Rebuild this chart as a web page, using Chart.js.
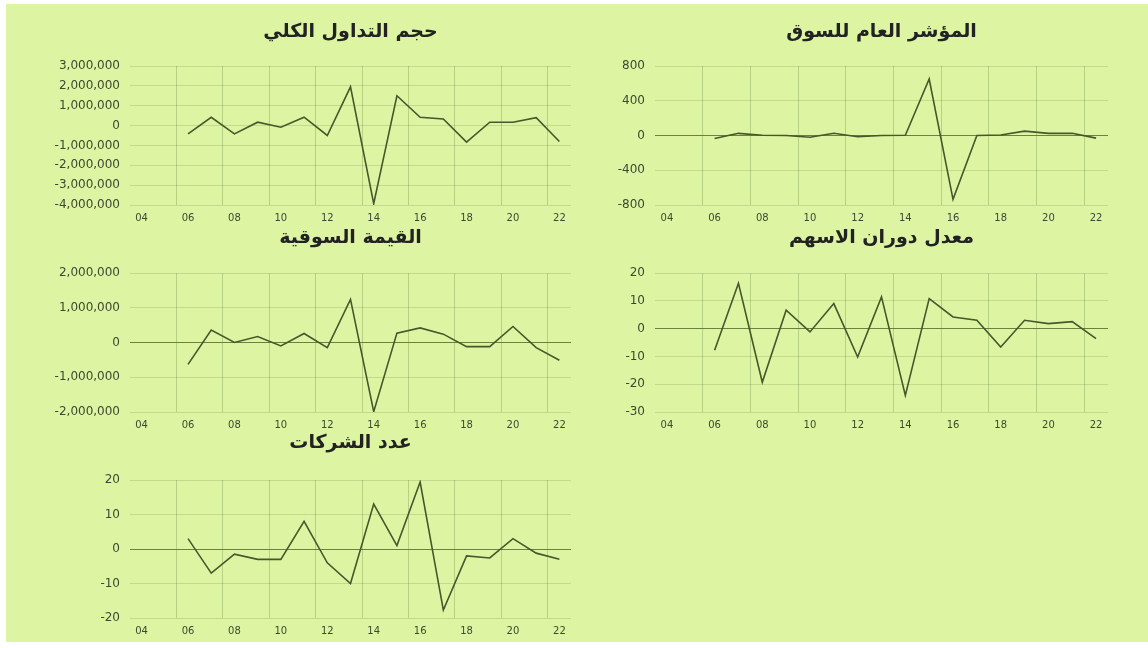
<!DOCTYPE html>
<html>
<head>
<meta charset="utf-8">
<script src="https://cdn.jsdelivr.net/npm/chart.js@4"></script>
<style>
html, body { margin: 0; padding: 0; background: #fff; }
body { width: 1148px; height: 648px; position: relative; overflow: hidden; }
#bg { position: absolute; left: 6px; top: 4px; width: 1142px; height: 638px; background: #ddf5a3; }
.box { position: absolute; }
canvas { display: block; }
</style>
</head>
<body>
<div id="bg"></div>
<div class="box" style="left:0;top:0;width:580px;height:225px"><canvas id="c1"></canvas></div>
<div class="box" style="left:580px;top:0;width:568px;height:225px"><canvas id="c2"></canvas></div>
<div class="box" style="left:0;top:222px;width:580px;height:210px"><canvas id="c3"></canvas></div>
<div class="box" style="left:580px;top:222px;width:568px;height:210px"><canvas id="c4"></canvas></div>
<div class="box" style="left:0;top:432px;width:580px;height:206px"><canvas id="c5"></canvas></div>
<script>
const years = [2006, 2007, 2008, 2009, 2010, 2011, 2012, 2013, 2014, 2015, 2016, 2017, 2018, 2019, 2020, 2021, 2022];
const xTicks = [2004, 2006, 2008, 2010, 2012, 2014, 2016, 2018, 2020, 2022];

const tradingVolume = [-420000, 420000, -420000, 170000, -80000, 420000, -500000, 1950000, -3930000, 1500000, 420000, 330000, -830000, 170000, 170000, 400000, -800000];
const marketIndex = [-35, 25, 3, 0, -20, 25, -15, 0, 3, 650, -735, 0, 5, 50, 25, 25, -30];
const marketValue = [-630000, 360000, 0, 170000, -100000, 260000, -150000, 1240000, -1990000, 270000, 420000, 240000, -120000, -120000, 460000, -150000, -510000];
const turnoverRate = [-7.8, 16.3, -19.3, 6.6, -1.2, 9, -10.2, 11.4, -24, 10.8, 4.2, 3, -6.6, 3, 1.8, 2.5, -3.6];
const companyCount = [3, -7, -1.5, -3, -3, 8, -4, -10, 13, 1, 19.4, -17.7, -2, -2.6, 3, -1.2, -3];

const volumeTicks = [-4000000, -3000000, -2000000, -1000000, 0, 1000000, 2000000, 3000000];
const indexTicks = [-800, -400, 0, 400, 800];
const valueTicks = [-2000000, -1000000, 0, 1000000, 2000000];
const turnoverTicks = [-30, -20, -10, 0, 10, 20];
const companyTicks = [-20, -10, 0, 10, 20];

const titles = ['حجم التداول الكلي', 'المؤشر العام للسوق', 'القيمة السوقية', 'معدل دوران الاسهم', 'عدد الشركات'];

const faintV = 'rgba(95, 125, 55, 0.3)';
const faintH = 'rgba(95, 125, 55, 0.22)';
const zeroLine = 'rgba(85, 110, 45, 0.85)';
const textColor = '#3c4830';

// y axis width per column, title sits over the plot area only
const columns = [
    { axisWidth: 130, padRight: 9 },
    { axisWidth: 75, padRight: 40 }
];
const rows = [
    { titleTop: 20.6, titleBottom: 22.6 },
    { titleTop: 4.6, titleBottom: 23.6 },
    { titleTop: 0, titleBottom: 25.2 }
];

function makeChart(id, title, values, yTicks, col, row, darkZero) {
    const c = columns[col];
    const r = rows[row];
    return new Chart(document.getElementById(id), {
        type: 'line',
        data: {
            datasets: [{
                data: years.map((y, i) => ({ x: y, y: values[i] })),
                borderColor: '#46572c',
                borderWidth: 1.6,
                pointRadius: 0,
                tension: 0,
                fill: false
            }]
        },
        options: {
            responsive: true,
            maintainAspectRatio: false,
            animation: false,
            layout: { padding: { left: 0, right: c.padRight, top: 0, bottom: 0 } },
            scales: {
                x: {
                    type: 'linear',
                    min: 2003.5,
                    max: 2022.5,
                    afterBuildTicks: s => { s.ticks = xTicks.map(v => ({ value: v })); },
                    afterFit: s => { s.height = 20; },
                    grid: { display: false, drawTicks: false },
                    border: { display: false },
                    ticks: {
                        padding: 7,
                        maxRotation: 0,
                        autoSkip: false,
                        color: textColor,
                        font: { family: 'DejaVu Sans', size: 10 },
                        callback: v => String(v % 100).padStart(2, '0')
                    }
                },
                xg: {
                    type: 'linear',
                    position: 'bottom',
                    min: 2003.5,
                    max: 2022.5,
                    afterBuildTicks: s => { s.ticks = xTicks.slice(1).map(v => ({ value: v - 0.5 })); },
                    afterFit: s => { s.height = 0; },
                    grid: { color: faintV, lineWidth: 1, drawTicks: false },
                    border: { display: false },
                    ticks: { display: false }
                },
                y: {
                    min: yTicks[0],
                    max: yTicks[yTicks.length - 1],
                    afterBuildTicks: s => { s.ticks = yTicks.map(v => ({ value: v })); },
                    afterFit: s => { s.width = c.axisWidth; },
                    grid: {
                        drawTicks: false,
                        color: ctx => (darkZero && ctx.tick && ctx.tick.value === 0) ? zeroLine : faintH
                    },
                    border: { display: false },
                    ticks: {
                        padding: 10,
                        color: textColor,
                        font: { family: 'DejaVu Sans', size: 12 },
                        callback: v => Number(v).toLocaleString('en-US')
                    }
                }
            },
            plugins: {
                legend: { display: false },
                tooltip: { enabled: false },
                title: {
                    display: true,
                    fullSize: false,
                    text: title,
                    color: '#222',
                    font: { family: 'DejaVu Sans', size: 19, weight: 'bold', lineHeight: 1.2 },
                    padding: { top: r.titleTop, bottom: r.titleBottom }
                }
            }
        }
    });
}

makeChart('c1', titles[0], tradingVolume, volumeTicks, 0, 0, false);
makeChart('c2', titles[1], marketIndex, indexTicks, 1, 0, true);
makeChart('c3', titles[2], marketValue, valueTicks, 0, 1, true);
makeChart('c4', titles[3], turnoverRate, turnoverTicks, 1, 1, true);
makeChart('c5', titles[4], companyCount, companyTicks, 0, 2, true);
</script>
</body>
</html>
